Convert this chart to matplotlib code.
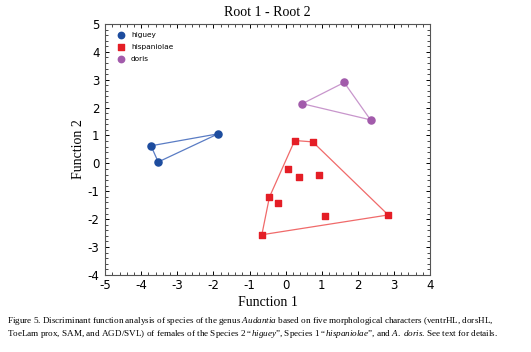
import matplotlib
matplotlib.use("Agg")
import matplotlib.pyplot as plt
from matplotlib.ticker import AutoMinorLocator, MultipleLocator

# discriminant scores (Function 1, Function 2)
higuey_x = [-3.73, -3.53, -1.87]
higuey_y = [0.63, 0.05, 1.06]

hisp_x = [0.25, 0.75, 0.07, 0.36, 0.93, -0.45, -0.21, 1.10, 2.84, -0.66]
hisp_y = [0.82, 0.77, -0.20, -0.48, -0.41, -1.21, -1.42, -1.88, -1.85, -2.56]
# indices of convex hull vertices, in order
hisp_hull = [9, 5, 0, 1, 8]

doris_x = [0.46, 1.62, 2.35]
doris_y = [2.14, 2.90, 1.56]

caption1 = ("Figure 5. Discriminant function analysis of species of the genus $\\it{Audantia}$ based on five "
            "morphological characters (ventrHL, dorsHL,")
caption2 = ("ToeLam prox, SAM, and AGD/SVL) of females of the Species 2 \u201c$\\it{higuey}$\u201d, Species 1 "
            "\u201c$\\it{hispaniolae}$\u201d, and $\\it{A.\\ doris}$. See text for details.")

plt.rcParams['mathtext.fontset'] = 'custom'
plt.rcParams['mathtext.it'] = 'Liberation Serif:italic'
plt.rcParams['mathtext.rm'] = 'Liberation Serif'
plt.rcParams['axes.unicode_minus'] = False

fig = plt.figure(figsize=(5.31, 3.52), dpi=100)
ax = fig.add_axes([0.198, 0.219, 0.612, 0.713])

blue, red, purple = '#1d4c9e', '#e41e26', '#a25bab'

ax.plot(higuey_x + higuey_x[:1], higuey_y + higuey_y[:1], color='#5a7cc4', lw=0.9, zorder=2)
hx = [hisp_x[i] for i in hisp_hull] + [hisp_x[hisp_hull[0]]]
hy = [hisp_y[i] for i in hisp_hull] + [hisp_y[hisp_hull[0]]]
ax.plot(hx, hy, color='#f06a6a', lw=0.9, zorder=2)
ax.plot(doris_x + doris_x[:1], doris_y + doris_y[:1], color='#c896cc', lw=0.9, zorder=2)

ax.scatter(higuey_x, higuey_y, s=26, color=blue, marker='o', label='higuey', zorder=3)
ax.scatter(hisp_x, hisp_y, s=24, color=red, marker='s', label='hispaniolae', zorder=3)
ax.scatter(doris_x, doris_y, s=26, color=purple, marker='o', label='doris', zorder=3)

ax.set_xlim(-5, 4)
ax.set_ylim(-4, 5)
ax.xaxis.set_major_locator(MultipleLocator(1))
ax.yaxis.set_major_locator(MultipleLocator(1))
ax.xaxis.set_minor_locator(AutoMinorLocator(5))
ax.yaxis.set_minor_locator(AutoMinorLocator(5))
ax.tick_params(which='both', direction='in', top=True, right=True, labelsize=8.5)
ax.tick_params(axis='x', pad=3)
ax.tick_params(axis='y', pad=4)
ax.tick_params(which='major', length=3, width=0.7)
ax.tick_params(which='minor', length=2, width=0.5)
for s in ax.spines.values():
    s.set_linewidth(0.8)
    s.set_color('#555555')

ax.set_xlabel('Function 1', family='Liberation Serif', fontsize=10, labelpad=3)
ax.set_ylabel('Function 2', family='Liberation Serif', fontsize=10, labelpad=2)
ax.set_title('Root 1 - Root 2', family='Liberation Serif', fontsize=10, pad=6)

ax.legend(loc='upper left', frameon=False, fontsize=5.3, handletextpad=0.4,
          borderaxespad=0.7, labelspacing=0.75, markerscale=0.9)

fig.text(0.014, 0.083, caption1, family='Liberation Serif', fontsize=6.55)
fig.text(0.014, 0.045, caption2, family='Liberation Serif', fontsize=6.55)

fig.savefig('out.png', dpi=100)
